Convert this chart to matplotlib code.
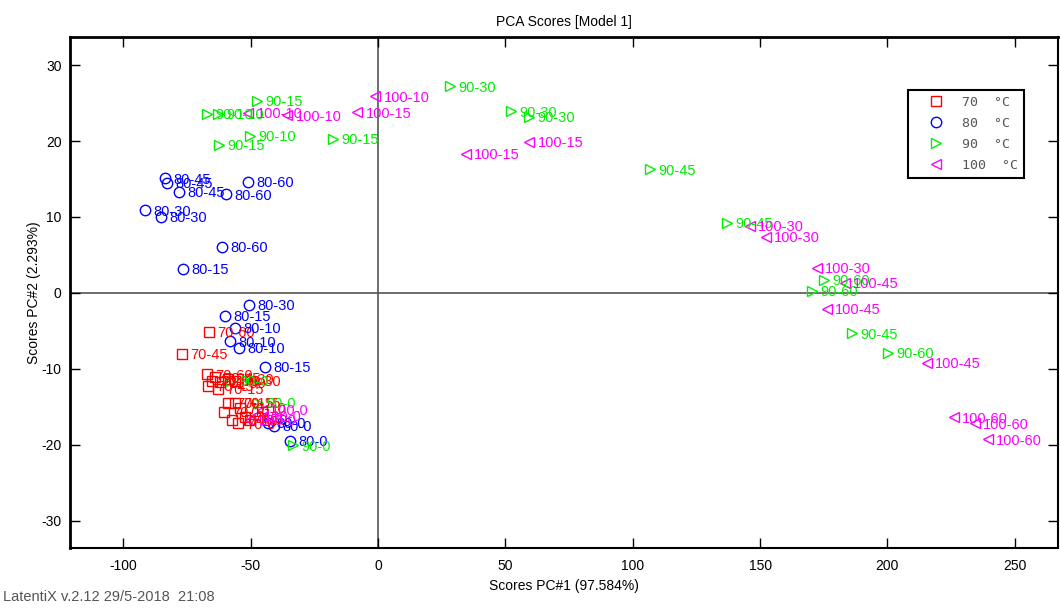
import numpy as np
import matplotlib.pyplot as plt

# PCA scores per temperature group: PC1, PC2 and sampling time (min)
pc1_70 = [-66.3, -76.9, -67.1, -65.1, -66.7, -64.0, -62.0, -58.9, -56.1, -62.8,
          -58.9, -56.1, -60.4, -54.2, -57.3, -52.2, -54.9, -50.2]
pc2_70 = [-5.1, -8.0, -10.7, -11.6, -12.2, -11.1, -11.8, -11.3, -11.6, -12.6,
          -14.5, -14.5, -15.7, -15.1, -16.8, -16.4, -17.2, -16.7]
time_70 = [60, 45, 60, 60, 45, 45, 30, 30, 30, 15, 15, 15, 10, 10, 10, 0, 0, 0]

pc1_80 = [-83.6, -82.8, -78.1, -51.0, -59.7, -61.2, -91.4, -85.2, -50.6,
          -76.5, -60.0, -44.3, -56.1, -58.1, -54.6, -43.2, -40.8, -34.5]
pc2_80 = [15.1, 14.5, 13.3, 14.6, 13.0, 6.1, 10.9, 10.0, -1.6,
          3.2, -3.0, -9.7, -4.6, -6.4, -7.2, -17.1, -17.5, -19.5]
time_80 = [45, 45, 45, 60, 60, 60, 30, 30, 30, 15, 15, 15, 10, 10, 10, 0, 0, 0]

pc1_90 = [-47.5, -62.4, -17.7, -67.1, -62.8, -50.2, 28.3, 52.2, 59.3,
          106.8, 137.0, 186.0, 175.0, 170.3, 200.2, -57.7, -47.1, -33.4]
pc2_90 = [25.3, 19.5, 20.3, 23.6, 23.6, 20.7, 27.2, 23.9, 23.2,
          16.3, 9.2, -5.3, 1.7, 0.3, -7.9, -11.6, -14.5, -20.1]
time_90 = [15, 15, 15, 10, 10, 10, 30, 30, 30, 45, 45, 45, 60, 60, 60, 0, 0, 0]

pc1_100 = [-1.2, -51.0, -35.7, -8.2, 34.5, 59.3, 146.0, 152.3, 172.3,
           183.3, 176.2, 215.5, 226.1, 234.3, 239.4, -45.5, -48.3, -50.2]
pc2_100 = [25.9, 23.7, 23.4, 23.8, 18.3, 19.9, 8.8, 7.4, 3.3,
           1.3, -2.1, -9.2, -16.4, -17.2, -19.3, -15.4, -16.2, -16.7]
time_100 = [10, 10, 10, 15, 15, 15, 30, 30, 30, 45, 45, 45, 60, 60, 60, 0, 0, 0]

temps = [70, 80, 90, 100]
groups = [(pc1_70, pc2_70, time_70), (pc1_80, pc2_80, time_80),
          (pc1_90, pc2_90, time_90), (pc1_100, pc2_100, time_100)]
markers = ['s', 'o', '>', '<']
colors = ['#ff0000', '#0000ff', '#00ee00', '#ff00ff']

plt.rcParams['font.family'] = ['Liberation Sans', 'DejaVu Sans']
plt.rcParams['axes.unicode_minus'] = False

fig = plt.figure(figsize=(10.6, 6.08), dpi=100)
ax = fig.add_axes([70 / 1060, 60 / 608, 988 / 1060, 511 / 608])

# zero lines
ax.axhline(0, color='#555555', lw=1.2, zorder=1)
ax.axvline(0, color='#555555', lw=1.2, zorder=1)

handles = []
for temp, (pc1, pc2, times), m, c in zip(temps, groups, markers, colors):
    h, = ax.plot(pc1, pc2, ls='none', marker=m, ms=7.5, mfc='none', mec=c, mew=1.0,
                 label='%d  \u00b0C' % temp, zorder=3)
    handles.append(h)
    for x, y, t in zip(pc1, pc2, times):
        ax.annotate('%d-%d' % (temp, t), (x, y), xytext=(6, -1),
                    textcoords='offset points', va='center', ha='left',
                    fontsize=10.5, color=c, zorder=4)

ax.set_xlim(-121, 267)
ax.set_ylim(-33.6, 33.7)
ax.set_xticks([-100, -50, 0, 50, 100, 150, 200, 250])
ax.set_yticks([-30, -20, -10, 0, 10, 20, 30])
ax.tick_params(direction='in', length=7, width=1, top=True, right=True,
               labelsize=10, colors='black')
ax.tick_params(axis='x', pad=8)
ax.tick_params(axis='y', pad=6)

for side in ['left', 'top']:
    ax.spines[side].set_linewidth(2)
for side in ['right', 'bottom']:
    ax.spines[side].set_linewidth(1.5)

ax.set_xlabel('Scores PC#1 (97.584%)', fontsize=10, labelpad=4)
ax.set_ylabel('Scores PC#2 (2.293%)', fontsize=10, labelpad=0)
ax.set_title('PCA Scores [Model 1]', fontsize=10, pad=8,
             family=['Liberation Sans Narrow', 'Liberation Sans'])

leg = ax.legend(handles=handles, loc='upper left', bbox_to_anchor=(0.848, 0.896),
                frameon=True, fancybox=False, framealpha=1, borderpad=0.45,
                handletextpad=0.25, labelspacing=0.6, handlelength=3.4,
                borderaxespad=0.0, prop={'family': 'DejaVu Sans Mono', 'size': 9.5})
leg.get_frame().set_edgecolor('black')
leg.get_frame().set_linewidth(1.5)
for txt in leg.get_texts():
    txt.set_color('#555555')

fig.text(0.003, 0.012, 'LatentiX v.2.12 29/5-2018  21:08', fontsize=10.5,
         color='#555555', family=['Liberation Sans Narrow', 'Liberation Sans'])

fig.savefig('out.png', dpi=100)
